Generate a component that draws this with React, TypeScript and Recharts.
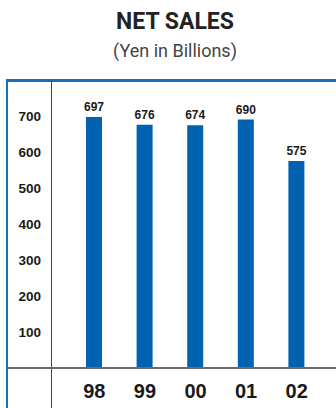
import React from "react";
import { BarChart, Bar, XAxis, YAxis, LabelList } from "recharts";

const categories = ["98", "99", "00", "01", "02"];
const netSales = [697, 676, 674, 690, 575];
const yTicks = [100, 200, 300, 400, 500, 600, 700];

const data = categories.map((year, i) => ({ year, value: netSales[i] }));

const BLUE = "#0062b1";
const FRAME = "#1d6cb9";

export default function App() {
  return (
    <div
      style={{
        position: "absolute",
        left: 0,
        top: 0,
        width: 336,
        height: 408,
        background: "#fff",
        overflow: "hidden",
        fontFamily: "Roboto, 'Liberation Sans', sans-serif",
      }}
    >
      <div
        style={{
          position: "absolute",
          left: 0,
          top: 8,
          width: 350,
          textAlign: "center",
          fontSize: 23,
          fontWeight: 700,
          color: "#222",
          lineHeight: "28px",
        }}
      >
        NET SALES
      </div>
      <div
        style={{
          position: "absolute",
          left: 0,
          top: 40,
          width: 350,
          textAlign: "center",
          fontSize: 18,
          color: "#444",
          lineHeight: "22px",
        }}
      >
        (Yen in Billions)
      </div>
      <div style={{ position: "absolute", left: 0, top: 0 }}>
        <BarChart
          width={336}
          height={408}
          data={data}
          margin={{ top: 80, right: 14, bottom: 10, left: 0 }}
        >
          <XAxis
            dataKey="year"
            height={30}
            axisLine={false}
            tickLine={false}
            tickMargin={10}
            tick={{
              fill: "#1a1a1a",
              fontSize: 20,
              fontWeight: 700,
              fontFamily: "'Liberation Sans', Arial, sans-serif",
            }}
          />
          <YAxis
            type="number"
            domain={[0, 800]}
            ticks={yTicks}
            width={69}
            axisLine={false}
            tickLine={false}
            tickSize={0}
            tickMargin={28}
            interval={0}
            tick={{
              fill: "#1a1a1a",
              fontSize: 13.5,
              fontWeight: 700,
              fontFamily: "'Liberation Sans', Arial, sans-serif",
            }}
          />
          <Bar dataKey="value" fill={BLUE} barSize={16} isAnimationActive={false}>
            <LabelList
              dataKey="value"
              position="top"
              offset={6}
              style={{
                fill: "#1a1a1a",
                fontSize: 12,
                fontWeight: 700,
                fontFamily: "'Liberation Sans', Arial, sans-serif",
              }}
            />
          </Bar>
        </BarChart>
      </div>
      {/* frame lines */}
      <div
        style={{
          position: "absolute",
          left: 6,
          top: 79,
          width: 340,
          height: 340,
          borderTop: `3px solid ${FRAME}`,
          borderLeft: `2.5px solid ${FRAME}`,
        }}
      />
      <div
        style={{
          position: "absolute",
          left: 51,
          top: 81,
          width: 1.2,
          height: 330,
          background: "#444",
        }}
      />
      <div
        style={{
          position: "absolute",
          left: 8,
          top: 367.3,
          width: 330,
          height: 1.5,
          background: "#6a6a6a",
        }}
      />
    </div>
  );
}
